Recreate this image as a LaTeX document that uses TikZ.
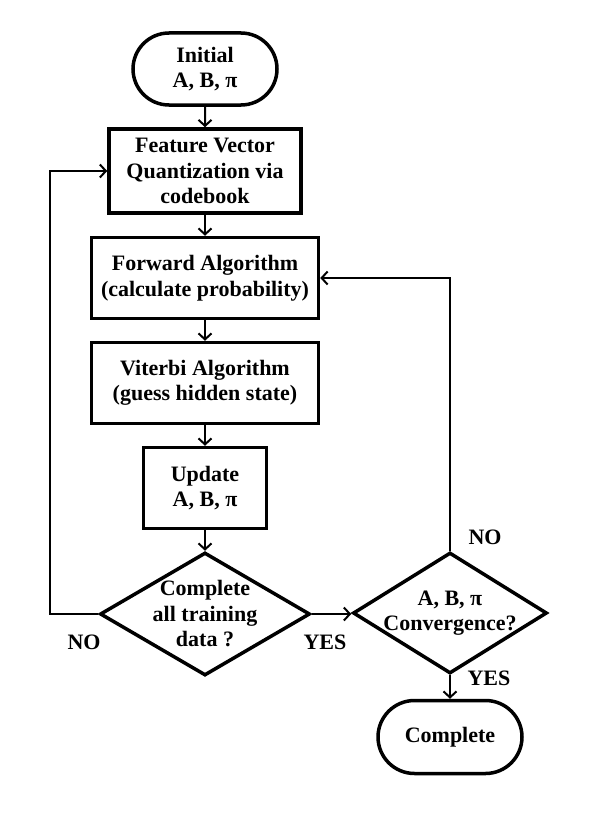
\documentclass[tikz,border=0pt]{standalone}
\usepackage{fontspec}
\setmainfont{Liberation Serif}
\usepackage{tikz}
\usetikzlibrary{arrows.meta}
\usetikzlibrary{shapes.geometric}
\usetikzlibrary{shapes.misc}
\usetikzlibrary{calc}
\tikzset{basic box/.style={draw,line width=3.5pt,align=center,
                           font=\fontsize{22}{25.5}\selectfont\bfseries}}
\tikzset{proc box/.style={basic box,rectangle,inner sep=0pt}}
\tikzset{term box/.style={basic box,rounded rectangle,inner sep=0pt}}
\tikzset{test box/.style={basic box,diamond,inner sep=-20pt}}
\tikzset{edge/.style={draw,
                      line width=2pt,
                      -{Straight Barb[length=6pt,width=13pt,line width=2pt]}}}
\tikzset{answer/.style={font=\fontsize{22}{25.5}\selectfont\bfseries}}

\begin{document}
\begin{tikzpicture}
      [
      x=1pt,y=-1pt,
      ]
      \useasboundingbox (0,0) rectangle (602,816);

      % boxes
      \node [term box,minimum width=144pt,minimum height=72pt] (init) at (205,69)
      {Initial\\A, B, π};
      \node [proc box,minimum width=192pt,minimum height=84pt] (feat) at (205,171)
      {Feature Vector\\Quantization via\\codebook};
      \node [proc box,minimum width=227pt,minimum height=81pt] (fwd) at (205,278)
      {Forward Algorithm\\(calculate probability)};
      \node [proc box,minimum width=227pt,minimum height=81pt] (vit) at (205,383)
      {Viterbi Algorithm\\(guess hidden state)};
      \node [proc box,minimum width=123pt,minimum height=81pt] (upd) at (205,488)
      {Update\\A, B, π};
      \node [test box,minimum width=210pt,minimum height=123pt] (chk1) at (205,614)
      {Complete\\all training\\data ?};
      \node [test box,minimum width=194pt,minimum height=121pt] (chk2) at (450,613)
      {A, B, π\\Convergence?};
      \node [term box,minimum width=144pt,minimum height=73pt] (done) at (450,737)
      {Complete};

      % answers
      \node [answer] (no1) at (84,642) {NO};
      \node [answer] (yes1) at (325,642) {YES};
      \node [answer] (no2) at (485,537) {NO};
      \node [answer] (yes2) at (489,678) {YES};

      % edges
      \foreach \a/\b in {init/feat,feat/fwd,fwd/vit,vit/upd,upd/chk1,chk2/done}
      {
      \path [edge] (\a) -- (\b);
      }

      \path [edge] (chk1.east) -- (chk1.east -| chk2.west);

      \coordinate (back) at (50,614);
      \path [edge] (chk1.west) -- (back) |- (feat.west);

      \path [edge] (chk2.north) |- (fwd.east);

    \end{tikzpicture}
\end{document}
